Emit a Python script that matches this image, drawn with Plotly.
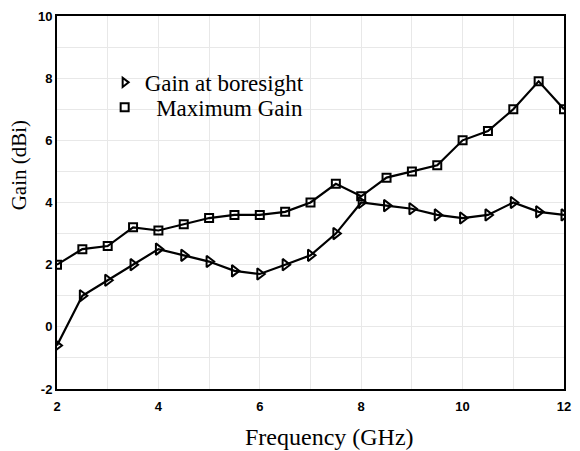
import plotly.graph_objects as go

freq = [2, 2.5, 3, 3.5, 4, 4.5, 5, 5.5, 6, 6.5, 7, 7.5, 8, 8.5, 9, 9.5, 10, 10.5, 11, 11.5, 12]
gain_boresight = [-0.6, 1.0, 1.5, 2.0, 2.5, 2.3, 2.1, 1.8, 1.7, 2.0, 2.3, 3.0, 4.0, 3.9, 3.8, 3.6, 3.5, 3.6, 4.0, 3.7, 3.6]
gain_max = [2.0, 2.5, 2.6, 3.2, 3.1, 3.3, 3.5, 3.6, 3.6, 3.7, 4.0, 4.6, 4.2, 4.8, 5.0, 5.2, 6.0, 6.3, 7.0, 7.9, 7.0]
x_ticks = [2, 4, 6, 8, 10, 12]
y_ticks = [-2, 0, 2, 4, 6, 8, 10]
names = ["Gain at boresight", "\u00a0\u00a0Maximum Gain"]
x_title = "Frequency (GHz)"
y_title = "Gain (dBi)"

fig = go.Figure()
fig.add_trace(go.Scatter(x=freq, y=gain_boresight, mode="lines+markers", showlegend=False,
                         line=dict(color="black", width=2.2),
                         marker=dict(symbol="triangle-right-open", size=10, color="black",
                                     line=dict(width=2, color="black"))))
fig.add_trace(go.Scatter(x=freq, y=gain_max, mode="lines+markers", showlegend=False,
                         line=dict(color="black", width=2.2),
                         marker=dict(symbol="square-open", size=8, color="black",
                                     line=dict(width=2, color="black"))))
# legend-only entries (markers, no line)
fig.add_trace(go.Scatter(x=[None], y=[None], mode="markers", name=names[0], legend="legend",
                         marker=dict(symbol="triangle-right-open", size=8, color="black",
                                     line=dict(width=2, color="black"))))
fig.add_trace(go.Scatter(x=[None], y=[None], mode="markers", name=names[1], legend="legend2",
                         marker=dict(symbol="square-open", size=8, color="black",
                                     line=dict(width=2, color="black"))))

axis_common = dict(showline=True, linecolor="black", linewidth=2, mirror=True,
                   showgrid=True, gridcolor="#e8e8e8", gridwidth=1,
                   zeroline=False, ticks="",
                   tickfont=dict(family="Liberation Sans", size=13, color="black", weight="bold"),
                   minor=dict(dtick=1, showgrid=True, gridcolor="#e8e8e8"))

fig.update_xaxes(range=[2, 12], tickvals=x_ticks, ticktext=[str(v) for v in x_ticks],
                 ticklabelstandoff=4, **axis_common)
fig.update_yaxes(range=[-2, 10], tickvals=y_ticks, ticktext=[str(v) for v in y_ticks],
                 **axis_common)

fig.add_annotation(text=x_title, xref="paper", yref="paper", x=0.537, y=-0.128,
                   xanchor="center", yanchor="middle", showarrow=False,
                   font=dict(family="Liberation Serif", size=24, color="black"))
fig.add_annotation(text=y_title, xref="paper", yref="paper", x=-0.076, y=0.601,
                   xanchor="center", yanchor="middle", showarrow=False, textangle=-90,
                   font=dict(family="Liberation Serif", size=21, color="black"))

leg_common = dict(xanchor="left", yanchor="middle", bgcolor="rgba(0,0,0,0)",
                  font=dict(family="Liberation Serif", size=23, color="black"))
fig.update_layout(width=580, height=451, margin=dict(l=57, r=9, t=13, b=62),
                  plot_bgcolor="white", paper_bgcolor="white",
                  legend=dict(x=0.094, y=0.822, **leg_common),
                  legend2=dict(x=0.094, y=0.755, **leg_common))

fig.write_html("out.html")
